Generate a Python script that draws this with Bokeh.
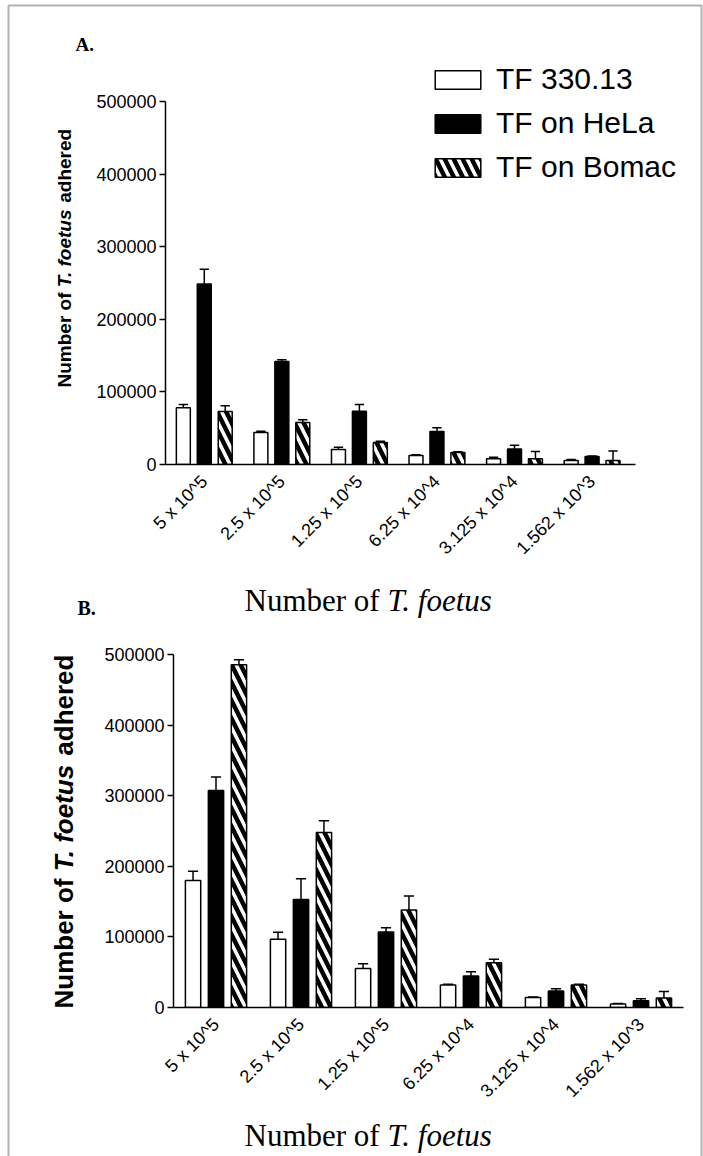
import math

from bokeh.embed import file_html
from bokeh.models import BoxAnnotation, FixedTicker, Label, Legend, LegendItem, Range1d
from bokeh.plotting import figure
from bokeh.resources import INLINE

# ---------------------------------------------------------------- data
doses = ["5 x 10^5", "2.5 x 10^5", "1.25 x 10^5", "6.25 x 10^4", "3.125 x 10^4", "1.562 x 10^3"]
series = ["TF 330.13", "TF on HeLa", "TF on Bomac"]
y_ticks = [0, 100000, 200000, 300000, 400000, 500000]

# Panel A: mean counts and SEM
a_tf330 = [78000, 44000, 20500, 12500, 7800, 5500]
a_tf330_err = [4500, 1800, 3200, 1000, 2200, 1500]
a_hela = [248500, 142000, 73500, 45500, 21500, 11000]
a_hela_err = [20500, 2300, 9000, 5000, 5000, 800]
a_bomac = [73000, 58000, 30300, 16500, 8000, 5500]
a_bomac_err = [7800, 3500, 1700, 1000, 10000, 13000]

# Panel B: mean counts and SEM
b_tf330 = [180000, 96500, 55300, 32000, 14000, 5000]
b_tf330_err = [13000, 10000, 6500, 1000, 1000, 500]
b_hela = [307500, 153000, 107000, 44500, 23500, 9500]
b_hela_err = [19000, 29500, 6000, 6000, 3000, 2800]
b_bomac = [485500, 248000, 138000, 63500, 32000, 13500]
b_bomac_err = [7000, 16500, 20000, 5000, 1000, 9000]

# ---------------------------------------------------------------- styling
SANS = "Liberation Sans"
SERIF = "Liberation Serif"
PAGE_W, PAGE_H = 703, 1156
BAR_W = 0.18
OFFSETS = [-0.27, 0.0, 0.27]
CAP = 0.06
STYLES = [
    dict(fill_color="white"),
    dict(fill_color="black"),
    dict(fill_color="white", hatch_pattern="\\", hatch_color="black",
         hatch_weight=4.5, hatch_scale=18),
]


def place(left, top):
    return {"position": "absolute", "left": f"{left}px", "top": f"{top}px"}


def panel_figure(left, top, width, height, axes_box, frame_box, x_end, values, errors,
                 legend_at=None):
    """Bar panel.

    axes_box  = (left, top, right, bottom) page pixels spanned by the axes
    frame_box = (left, top, right, bottom) page pixels of the plotting frame
    """
    al, at, ar, ab = axes_box
    fl, ft, fr, fb = frame_box
    x_per_px = (x_end + 0.5) / (ar - al)
    y_per_px = y_ticks[-1] / (ab - at)
    x_range = Range1d(-0.5 - (al - fl) * x_per_px, x_end + (fr - ar) * x_per_px)
    y_range = Range1d(0, y_ticks[-1] + (at - ft) * y_per_px)

    p = figure(
        width=width, height=height, x_range=x_range, y_range=y_range,
        output_backend="svg", toolbar_location=None,
        min_border_left=fl - left, min_border_right=left + width - fr,
        min_border_top=ft - top, min_border_bottom=top + height - fb,
        styles=place(left, top),
    )
    p.outline_line_color = None
    p.background_fill_alpha = 0
    p.border_fill_alpha = 0
    p.grid.visible = False

    ya = p.yaxis[0]
    ya.bounds = (0, y_ticks[-1])
    ya.ticker = FixedTicker(ticks=y_ticks)
    ya.major_label_overrides = {t: str(t) for t in y_ticks}
    ya.minor_tick_line_color = None
    ya.major_tick_in = 0
    ya.major_tick_out = 6
    ya.major_tick_line_width = 1.5
    ya.axis_line_width = 1.5
    ya.major_label_text_font = SANS
    ya.major_label_text_font_size = "18px"
    ya.major_label_text_color = "black"
    ya.major_label_standoff = 3

    xa = p.xaxis[0]
    xa.bounds = (-0.5, x_end)
    xa.ticker = FixedTicker(ticks=list(range(len(doses))))
    xa.major_label_overrides = {i: d for i, d in enumerate(doses)}
    xa.minor_tick_line_color = None
    xa.major_tick_line_color = None
    xa.axis_line_width = 1.5
    xa.major_label_orientation = math.pi / 4
    xa.major_label_text_font = SANS
    xa.major_label_text_font_size = "18px"
    xa.major_label_text_color = "black"
    xa.major_label_standoff = 8

    bars = []
    for k in range(3):
        xs = [i + OFFSETS[k] for i in range(len(doses))]
        tops = values[k]
        ends = [t + e for t, e in zip(tops, errors[k])]
        p.segment(x0=xs, y0=tops, x1=xs, y1=ends, line_color="black", line_width=1.5)
        p.segment(x0=[x - CAP for x in xs], y0=ends, x1=[x + CAP for x in xs], y1=ends,
                  line_color="black", line_width=1.5)
        bars.append(p.vbar(x=xs, top=tops, bottom=0, width=BAR_W, line_color="black",
                           line_width=1.5, **STYLES[k]))

    if legend_at is not None:
        lx, lbottom = legend_at
        p.add_layout(Legend(
            items=[LegendItem(label=s, renderers=[r]) for s, r in zip(series, bars)],
            location=(lx - fl, fb - lbottom),
            glyph_width=57, glyph_height=23, label_standoff=10,
            label_text_font=SANS, label_text_font_size="30px", label_text_color="black",
            label_height=23, spacing=10, padding=0, margin=0,
            border_line_color=None, background_fill_alpha=0,
        ))
    return p


# ---------------------------------------------------------------- page layer (titles, border)
page = figure(
    width=PAGE_W, height=PAGE_H,
    x_range=Range1d(0, PAGE_W), y_range=Range1d(PAGE_H, 0),
    x_axis_location=None, y_axis_location=None,
    output_backend="svg", toolbar_location=None,
    min_border=0, styles=place(0, 0),
)
page.outline_line_color = None
page.grid.visible = False
page.background_fill_color = "white"
page.border_fill_color = "white"

page.add_layout(BoxAnnotation(left=8, right=701, top=5, bottom=PAGE_H + 20,
                              fill_alpha=0, line_color="black", line_width=2))


def x_title(baseline, size=31):
    start = 244
    page.add_layout(Label(x=start, y=baseline, text="Number of", text_font=SERIF,
                          text_font_size=f"{size}px", text_color="black",
                          text_align="left", text_baseline="alphabetic"))
    page.add_layout(Label(x=start + 4.61 * size, y=baseline, text="T. foetus",
                          text_font=SERIF, text_font_style="italic",
                          text_font_size=f"{size}px", text_color="black",
                          text_align="left", text_baseline="alphabetic"))


def y_title(cx, bottom, size):
    pieces = [("Number of", "bold", 5.0), ("T. foetus", "bold italic", 4.167),
              ("adhered", "bold", 3.89)]
    pos = bottom
    for text, style, em in pieces:
        page.add_layout(Label(x=cx, y=pos, text=text, angle=math.pi / 2,
                              text_font=SANS, text_font_style=style,
                              text_font_size=f"{size}px", text_color="black",
                              text_align="left", text_baseline="middle"))
        pos -= (em + 0.278) * size


def letter(text, x, baseline, size):
    page.add_layout(Label(x=x, y=baseline, text=text, text_font=SERIF,
                          text_font_style="bold", text_font_size=f"{size}px",
                          text_color="black", text_align="left",
                          text_baseline="alphabetic"))


letter("A.", 75, 44, 19)
letter("B.", 77, 607, 20)
x_title(600)
x_title(1135)
y_title(64, 387, 19)
y_title(63, 1008, 26)

# ---------------------------------------------------------------- the two panels
pa = panel_figure(9, 6, 691, 584, axes_box=(165, 101, 635, 464),
                  frame_box=(165, 6, 700, 464), x_end=5.56,
                  values=[a_tf330, a_hela, a_bomac],
                  errors=[a_tf330_err, a_hela_err, a_bomac_err],
                  legend_at=(429, 184))
pb = panel_figure(9, 590, 691, 564, axes_box=(173, 654, 683, 1007),
                  frame_box=(173, 654, 683, 1007), x_end=5.5,
                  values=[b_tf330, b_hela, b_bomac],
                  errors=[b_tf330_err, b_hela_err, b_bomac_err])

with open("out.html", "w") as fh:
    fh.write(file_html([page, pa, pb], INLINE))
